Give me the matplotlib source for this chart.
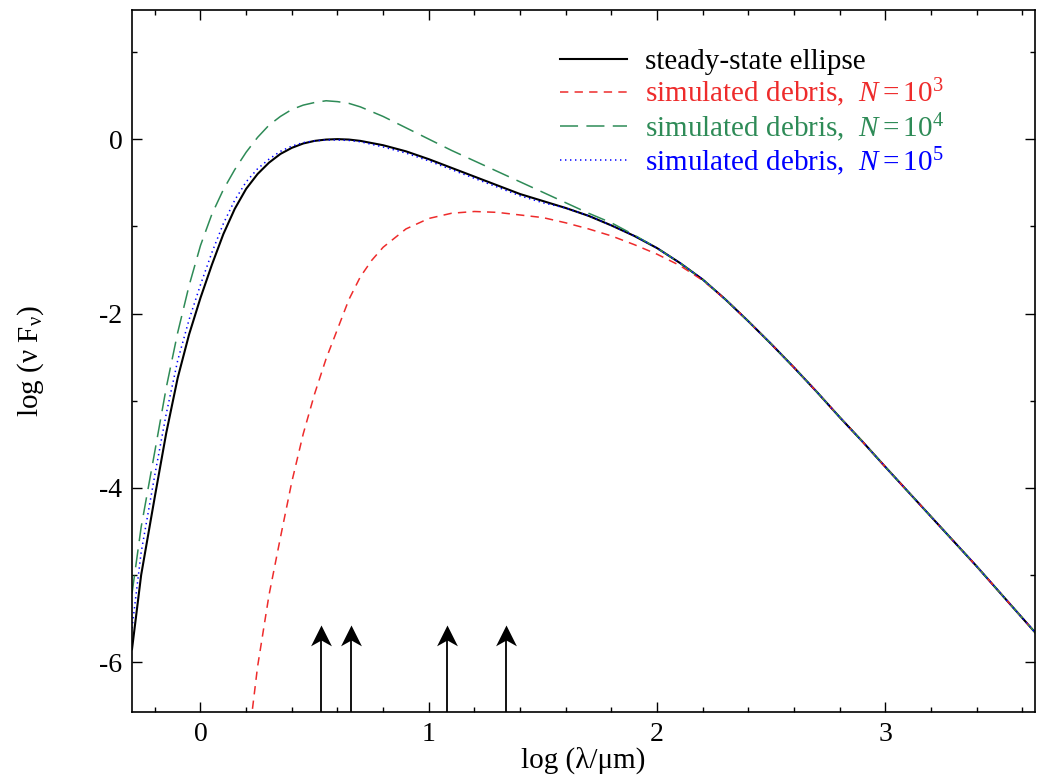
import matplotlib
matplotlib.use("Agg")
import matplotlib.pyplot as plt
from matplotlib.path import Path
from matplotlib.ticker import MultipleLocator

plt.rcParams['font.family'] = ['Liberation Serif', 'DejaVu Serif']
plt.rcParams['mathtext.fontset'] = 'custom'
plt.rcParams['mathtext.rm'] = 'Liberation Serif'
plt.rcParams['mathtext.it'] = 'Liberation Serif:italic'
plt.rcParams['axes.unicode_minus'] = False
plt.rcParams['lines.scale_dashes'] = False

# log(lambda/um) grid shared by the model curves
x_grid = [-0.30, -0.26, -0.20, -0.15, -0.10, -0.05, 0.00, 0.05, 0.10, 0.15,
          0.20, 0.25, 0.30, 0.35, 0.40, 0.45, 0.50, 0.55, 0.60, 0.65,
          0.70, 0.80, 0.90, 1.00, 1.10, 1.20, 1.30, 1.40, 1.50, 1.60,
          1.70, 1.80, 1.90, 2.00, 2.10, 2.20, 2.30, 2.40, 2.50, 2.60,
          2.70, 2.80, 2.90, 3.00, 3.20, 3.40, 3.66]

steady = [-5.85, -5.00, -4.10, -3.37, -2.74, -2.24, -1.82, -1.44, -1.09, -0.80,
          -0.57, -0.40, -0.27, -0.17, -0.10, -0.05, -0.02, -0.005, 0.00, -0.005,
          -0.02, -0.07, -0.14, -0.23, -0.33, -0.43, -0.53, -0.63, -0.71, -0.79,
          -0.88, -0.99, -1.11, -1.25, -1.42, -1.61, -1.84, -2.09, -2.35, -2.62,
          -2.90, -3.19, -3.47, -3.76, -4.33, -4.90, -5.67]

debris_1e5 = [-5.61, -4.74, -3.85, -3.15, -2.54, -2.07, -1.67, -1.30, -0.97, -0.70,
              -0.49, -0.34, -0.23, -0.14, -0.08, -0.04, -0.02, -0.01, -0.01, -0.015,
              -0.03, -0.09, -0.16, -0.25, -0.35, -0.45, -0.55, -0.65, -0.73, -0.79,
              -0.88, -0.99, -1.11, -1.25, -1.42, -1.61, -1.84, -2.09, -2.35, -2.62,
              -2.90, -3.19, -3.47, -3.76, -4.33, -4.90, -5.67]

debris_1e4 = [-5.21, -4.45, -3.58, -2.85, -2.22, -1.68, -1.22, -0.86, -0.58, -0.35,
              -0.15, 0.02, 0.16, 0.26, 0.34, 0.39, 0.42, 0.44, 0.43, 0.41,
              0.37, 0.26, 0.13, 0.00, -0.13, -0.25, -0.37, -0.49, -0.61, -0.73,
              -0.85, -0.96, -1.10, -1.25, -1.42, -1.61, -1.84, -2.09, -2.35, -2.62,
              -2.90, -3.19, -3.47, -3.76, -4.33, -4.90, -5.67]

x_1e3 = [0.22, 0.25, 0.30, 0.35, 0.40, 0.45, 0.50, 0.55, 0.60, 0.65,
         0.70, 0.75, 0.80, 0.90, 1.00, 1.10, 1.20, 1.30, 1.40, 1.50,
         1.60, 1.70, 1.80, 1.90, 2.00, 2.10, 2.20, 2.30, 2.40, 2.50,
         2.60, 2.70, 2.80, 2.90, 3.00, 3.20, 3.40, 3.66]
debris_1e3 = [-6.70, -6.05, -5.23, -4.57, -3.93, -3.38, -2.92, -2.52, -2.18, -1.84,
              -1.58, -1.39, -1.24, -1.03, -0.91, -0.85, -0.83, -0.84, -0.87, -0.90,
              -0.96, -1.03, -1.11, -1.21, -1.32, -1.45, -1.62, -1.84, -2.09, -2.35,
              -2.62, -2.90, -3.19, -3.47, -3.76, -4.33, -4.90, -5.67]

# wavelengths marked with arrows
arrow_x = [0.53, 0.66, 1.08, 1.34]
arrow_top = -5.57

fig = plt.figure(figsize=(10.37, 7.75), dpi=100)
ax = fig.add_axes([0.1273, 0.0813, 0.8707, 0.9057])

ax.plot(x_grid, steady, color='black', lw=1.5, label='steady-state ellipse')
ax.plot(x_1e3, debris_1e3, color='#ee2b2b', lw=1.1, dashes=(6, 4.5),
        label='simulated debris,  $N = 10^3$')
ax.plot(x_grid, debris_1e4, color='#2e8b57', lw=1.1, dashes=(13, 6),
        label='simulated debris,  $N = 10^4$')
ax.plot(x_grid, debris_1e5, color='#0000ff', lw=1.1, dashes=(1, 2.6),
        label='simulated debris,  $N = 10^5$')

ymin, ymax = -6.57, 1.48

# arrow shafts plus a notched (stealth) head marker at the tip
head = Path([(0, 0), (-0.5, -1.0), (0, -0.72), (0.5, -1.0), (0, 0)],
            [Path.MOVETO, Path.LINETO, Path.LINETO, Path.LINETO, Path.CLOSEPOLY])
ax.vlines(arrow_x, ymin, arrow_top - 0.1, color='black', lw=1.3)
ax.plot(arrow_x, [arrow_top] * len(arrow_x), ls='none', marker=head,
        ms=30, color='black', mew=0)

ax.set_xlim(-0.30, 3.655)
ax.set_ylim(ymin, ymax)
ax.xaxis.set_major_locator(MultipleLocator(1))
ax.xaxis.set_minor_locator(MultipleLocator(0.2))
ax.yaxis.set_major_locator(MultipleLocator(2))
ax.yaxis.set_minor_locator(MultipleLocator(1))
ax.tick_params(which='both', direction='in', top=True, right=True,
               labelsize=20, width=1.0, pad=7)
ax.tick_params(which='major', length=7)
ax.tick_params(which='minor', length=3.8)
for s in ax.spines.values():
    s.set_linewidth(1.2)

ax.set_xlabel('log (λ/μm)', fontsize=21, labelpad=0)
ax.set_ylabel(r'log (ν F$_{\mathrm{ν}}$)', fontsize=21, labelpad=38)

leg = ax.legend(loc='upper left', bbox_to_anchor=(0.474, 0.945), frameon=False,
                fontsize=21, handlelength=2.3, handletextpad=0.6,
                labelspacing=0.05, borderaxespad=0, borderpad=0)
for txt, line in zip(leg.get_texts(), leg.get_lines()):
    txt.set_color(line.get_color())

fig.savefig('out.png', dpi=100)
